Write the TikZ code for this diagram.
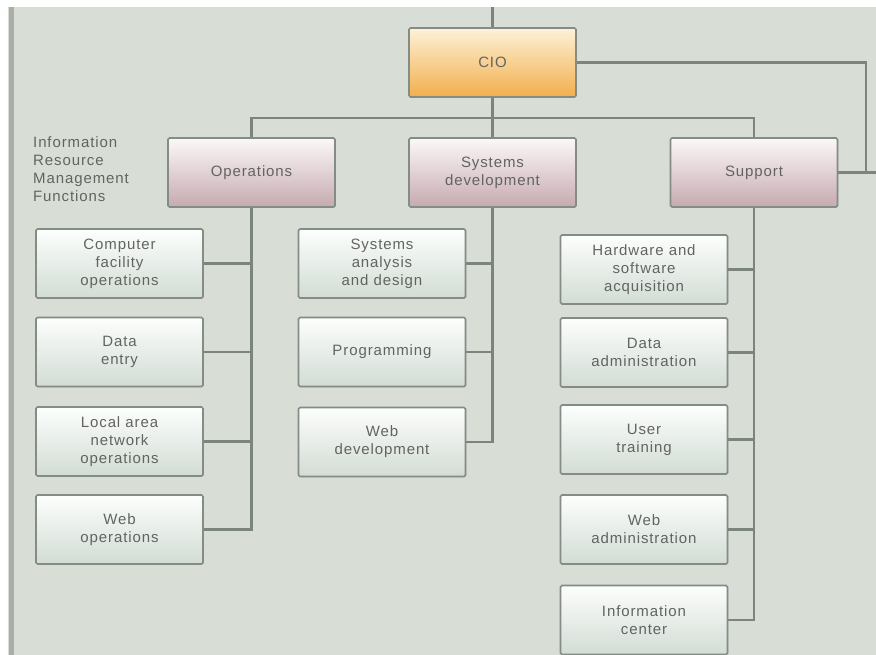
\documentclass[tikz,border=0pt]{standalone}
\usepackage{fontspec}
\setmainfont[LetterSpace=6]{Liberation Sans}
\usetikzlibrary{shadows}
\definecolor{bg}{HTML}{D8DED6}
\definecolor{leftbar}{HTML}{A9AEA9}
\definecolor{edgec}{HTML}{858B86}
\definecolor{wirec}{HTML}{7B857E}
\definecolor{ink}{HTML}{626462}
\definecolor{ciotop}{HTML}{FDF2D8}
\definecolor{ciobot}{HTML}{F2AE4C}
\definecolor{fntop}{HTML}{FBF8F8}
\definecolor{fnbot}{HTML}{C6AAB0}
\definecolor{subtop}{HTML}{FDFEFD}
\definecolor{subbot}{HTML}{D2DCD4}
\tikzset{
  box/.style={draw=edgec, line width=1.6pt, rounded corners=1.5pt,
    minimum width=167pt, minimum height=69pt, inner sep=0pt,
    align=center, text=ink, font=\fontsize{15}{18}\selectfont,
    drop shadow={shadow xshift=0.8pt, shadow yshift=-0.8pt, opacity=0.25}},
  headbox/.style={box, top color=ciotop, bottom color=ciobot},
  funcbox/.style={box, top color=fntop, bottom color=fnbot},
  subbox/.style={box, top color=subtop, bottom color=subbot},
  wire/.style={draw=wirec, line width=2.2pt},
}

\begin{document}
\begin{tikzpicture}[x=1pt, y=-1pt]
            \useasboundingbox (0,0) rectangle (876,655);
            \fill[white] (0,0) rectangle (876,655);
            \fill[bg] (8,7) rectangle (876,655);
            \fill[leftbar] (8.5,7) rectangle (14,655);

            % top level
            \node[headbox] (cio) at (492.5,62.5) {CIO};

            % functions
            \node[funcbox] (ops) at (251.5,172.5) {Operations};
            \node[funcbox] (sysdev) at (492.5,172.5) {Systems\\development};
            \node[funcbox] (support) at (754,172.5) {Support};
            \node[anchor=north west, align=left, text=ink, inner sep=0pt,
              font=\fontsize{15}{18}\selectfont] (irm) at (33,136)
              {Information\\Resource\\Management\\Functions};

            % operations
            \node[subbox] (comp) at (119.5,263.5) {Computer\\facility\\operations};
            \node[subbox] (dataentry) at (119.5,352) {Data\\entry};
            \node[subbox] (lan) at (119.5,441.5) {Local area\\network\\operations};
            \node[subbox] (webops) at (119.5,529.5) {Web\\operations};

            % systems development
            \node[subbox] (analysis) at (382,263.5) {Systems\\analysis\\and design};
            \node[subbox] (prog) at (382,352) {Programming};
            \node[subbox] (webdev) at (382,442) {Web\\development};

            % support
            \node[subbox] (hw) at (644,269.5) {Hardware and\\software\\acquisition};
            \node[subbox] (dataadmin) at (644,352.5) {Data\\administration};
            \node[subbox] (training) at (644,439.5) {User\\training};
            \node[subbox] (webadmin) at (644,529.5) {Web\\administration};
            \node[subbox] (infocenter) at (644,620) {Information\\center};

            \coordinate (top) at (492.5,7);
            \coordinate (bus) at (492.5,118);
            \coordinate (rt) at (866,172.5);
            \coordinate (rtend) at (876,172.5);

            % connectors
            \draw[wire] (top) -- (cio.north);
            \draw[wire] (cio.south) -- (sysdev.north);
            \draw[wire] (ops.north) |- (bus) -| (support.north);
            \draw[wire] (cio.east) -| (rt) -- (support.east);
            \draw[wire] (rt) -- (rtend);

            \draw[wire] (ops.south) |- (webops.east);
            \foreach \n in {comp, dataentry, lan}
              \draw[wire] (\n.east) -- (\n.east -| ops.south);
            \draw[wire] (sysdev.south) |- (webdev.east);
            \foreach \n in {analysis, prog}
              \draw[wire] (\n.east) -- (\n.east -| sysdev.south);
            \draw[wire] (support.south) |- (infocenter.east);
            \foreach \n in {hw, dataadmin, training, webadmin}
              \draw[wire] (\n.east) -- (\n.east -| support.south);
          \end{tikzpicture}
\end{document}
